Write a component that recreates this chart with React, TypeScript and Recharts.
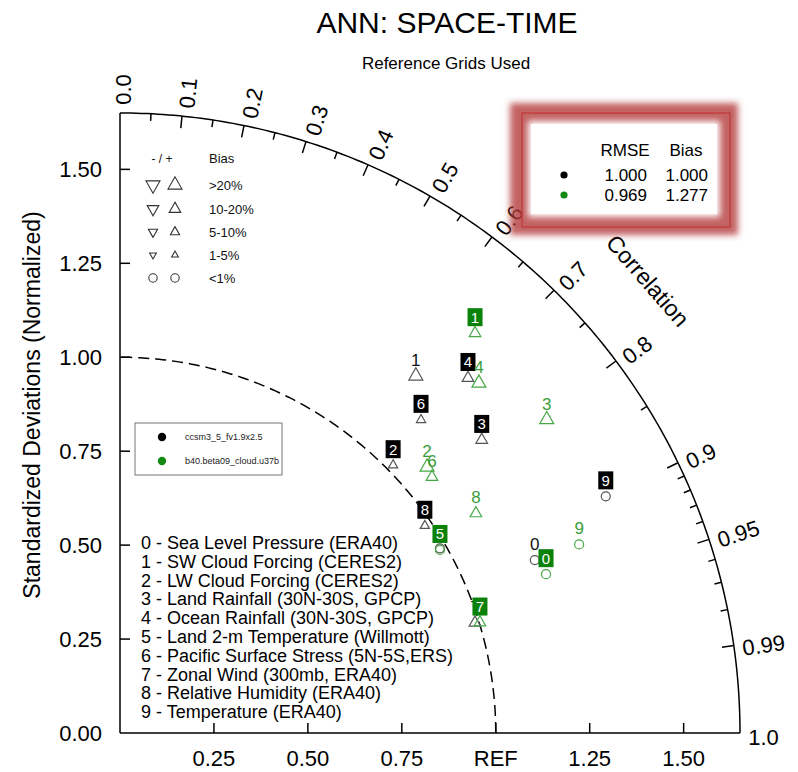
import React from 'react';
import { ScatterChart, Scatter, XAxis, YAxis, ReferenceLine, ReferenceDot } from 'recharts';

const FONT = '"Liberation Sans", Arial, Helvetica, sans-serif';

// ---------- data ----------
const variableNames = [
  'Sea Level Pressure (ERA40)',
  'SW Cloud Forcing (CERES2)',
  'LW Cloud Forcing (CERES2)',
  'Land Rainfall (30N-30S, GPCP)',
  'Ocean Rainfall (30N-30S, GPCP)',
  'Land 2-m Temperature (Willmott)',
  'Pacific Surface Stress (5N-5S,ERS)',
  'Zonal Wind (300mb, ERA40)',
  'Relative Humidity (ERA40)',
  'Temperature (ERA40)',
];

const caseNames = ['ccsm3_5_fv1.9x2.5', 'b40.beta09_cloud.u37b'];
const caseRMSE = ['1.000', '0.969'];
const caseBias = ['1.000', '1.277'];

// normalized standard deviation (ratio) and correlation for each variable
const ratioCase1 = [1.196, 1.234, 1.018, 1.239, 1.323, 0.983, 1.156, 0.989, 0.981, 1.438];
const corrCase1 = [0.923, 0.638, 0.714, 0.777, 0.700, 0.866, 0.693, 0.955, 0.827, 0.899];
// bias class: 0 = <1%, 1 = 1-5%, 2 = 5-10%, 3 = 10-20%, 4 = >20%
const biasClassCase1 = [0, 4, 2, 3, 3, 0, 2, 3, 2, 0];
const boxedCase1 = [false, false, true, true, true, false, true, false, true, true];

const ratioCase2 = [1.210, 1.423, 1.081, 1.409, 1.334, 0.981, 1.074, 1.002, 1.113, 1.321];
const corrCase2 = [0.937, 0.664, 0.756, 0.806, 0.716, 0.868, 0.773, 0.956, 0.851, 0.925];
const biasClassCase2 = [0, 3, 4, 4, 4, 0, 3, 3, 3, 0];
const boxedCase2 = [true, true, false, false, false, true, false, true, false, false];

const stdTickValues = [0, 0.25, 0.5, 0.75, 1.0, 1.25, 1.5];
const yTickLabels = ['0.00', '0.25', '0.50', '0.75', '1.00', '1.25', '1.50'];
const xTickLabels = ['', '0.25', '0.50', '0.75', 'REF', '1.25', '1.50'];

const corrMajor = [0.0, 0.1, 0.2, 0.3, 0.4, 0.5, 0.6, 0.7, 0.8, 0.9, 0.95, 0.99, 1.0];
const corrMajorLabels = ['0.0', '0.1', '0.2', '0.3', '0.4', '0.5', '0.6', '0.7', '0.8', '0.9', '0.95', '0.99', '1.0'];
const corrMinor = [0.05, 0.15, 0.25, 0.35, 0.45, 0.55, 0.65, 0.75, 0.85, 0.91, 0.92, 0.93, 0.94, 0.96, 0.97, 0.98];

const biasLegendLabels = ['>20%', '10-20%', '5-10%', '1-5%', '<1%'];
const biasLegendClasses = [4, 3, 2, 1, 0];

// ---------- geometry helpers ----------
const MAX_STD = 1.65;
const polar = (r: number, c: number) => ({ x: r * c, y: r * Math.sqrt(Math.max(0, 1 - c * c)) });

const arcAngles = Array.from({ length: 181 }, (_, i) => i * 0.5);
const outerArc = arcAngles.map((a) => polar(MAX_STD, Math.cos((a * Math.PI) / 180)));
const refArc = arcAngles.map((a) => polar(1.0, Math.cos((a * Math.PI) / 180)));

const buildPoints = (ratio: number[], corr: number[], bias: number[], boxed: boolean[]) =>
  ratio.map((r, i) => ({ ...polar(r, corr[i]), idx: i, bias: bias[i], boxed: boxed[i] }));

const case1Points = buildPoints(ratioCase1, corrCase1, biasClassCase1, boxedCase1);
const case2Points = buildPoints(ratioCase2, corrCase2, biasClassCase2, boxedCase2);

// ---------- styles ----------
const BLACK_MARKER = '#555555';
const BLACK_TEXT = '#111111';
const BLACK_BOX = '#000000';
const GREEN_MARKER = '#46a846';
const GREEN_TEXT = '#3a9e3a';
const GREEN_BOX = '#0a820a';
const GREEN_DOT = '#138a13';
const HALF_W = [0, 3.4, 4.6, 5.8, 7.0];

const triPoints = (cx: number, cy: number, w: number, up: boolean) => {
  const h = w * 1.75;
  if (up) return `${cx},${cy - (2 * h) / 3} ${cx - w},${cy + h / 3} ${cx + w},${cy + h / 3}`;
  return `${cx},${cy + (2 * h) / 3} ${cx - w},${cy - h / 3} ${cx + w},${cy - h / 3}`;
};

const renderNothing = () => <g />;

const makeMarkerShape = (markerColor: string, textColor: string, boxColor: string) => (props: any) => {
  const { cx, cy, payload } = props;
  if (cx == null || cy == null) return <g />;
  const cls = payload.bias;
  const marker =
    cls === 0 ? (
      <circle cx={cx} cy={cy} r={4.5} fill="none" stroke={markerColor} strokeWidth={1.2} />
    ) : (
      <polygon points={triPoints(cx, cy, HALF_W[cls], true)} fill="none" stroke={markerColor} strokeWidth={1.2} />
    );
  const ly = cy - 16;
  const label = payload.boxed ? (
    <g>
      <rect x={cx - 7.5} y={ly - 9} width={15} height={18} fill={boxColor} />
      <text x={cx} y={ly + 5.5} fill="#ffffff" fontSize={15} textAnchor="middle" fontFamily={FONT}>
        {payload.idx}
      </text>
    </g>
  ) : (
    <text x={cx} y={ly + 6} fill={textColor} fontSize={17} textAnchor="middle" fontFamily={FONT}>
      {payload.idx}
    </text>
  );
  return (
    <g>
      {marker}
      {label}
    </g>
  );
};

const XTick = (props: any) => {
  const { x, y, payload } = props;
  const i = stdTickValues.indexOf(payload.value);
  return (
    <g>
      <line x1={x} y1={y} x2={x} y2={y - 10} stroke="#000" strokeWidth={1.5} />
      <text x={x} y={y + 33} textAnchor="middle" fontSize={22} fontFamily={FONT} fill="#000">
        {xTickLabels[i]}
      </text>
    </g>
  );
};

const YTick = (props: any) => {
  const { x, y, payload } = props;
  const i = stdTickValues.indexOf(payload.value);
  return (
    <g>
      {payload.value > 0 && <line x1={x} y1={y} x2={x + 10} y2={y} stroke="#000" strokeWidth={1.5} />}
      <text x={x - 18} y={y + 8} textAnchor="end" fontSize={22} fontFamily={FONT} fill="#000">
        {yTickLabels[i]}
      </text>
    </g>
  );
};

const corrLabelShape = (label: string, c: number) => (props: any) => {
  const { cx, cy } = props;
  const deg = (Math.acos(c) * 180) / Math.PI;
  return (
    <text
      x={cx}
      y={cy + 4}
      transform={`rotate(${-deg} ${cx} ${cy})`}
      textAnchor="start"
      dominantBaseline="central"
      fontSize={22}
      fontFamily={FONT}
      fill="#000"
    >
      {label}
    </text>
  );
};

const correlationTitleShape = (props: any) => {
  const { cx, cy } = props;
  return (
    <text
      x={cx}
      y={cy}
      transform={`rotate(49 ${cx} ${cy})`}
      textAnchor="middle"
      dominantBaseline="central"
      fontSize={23}
      fontFamily={FONT}
      fill="#000"
    >
      Correlation
    </text>
  );
};

const corrTitlePos = polar(1.85, Math.cos((40.6 * Math.PI) / 180));

export default function App() {
  return (
    <div style={{ position: 'absolute', left: 0, top: 0, width: 798, height: 772, background: '#fff' }}>
      <ScatterChart width={798} height={772} margin={{ top: 113, right: 58, bottom: 0, left: 0 }}>
        <XAxis
          type="number"
          dataKey="x"
          domain={[0, MAX_STD]}
          ticks={stdTickValues.slice(1)}
          interval={0}
          height={39}
          tickSize={0}
          tickMargin={0}
          tick={(p: any) => <XTick {...p} />}
          axisLine={{ stroke: '#000', strokeWidth: 1.5 }}
          tickLine={false}
        />
        <YAxis
          type="number"
          dataKey="y"
          domain={[0, MAX_STD]}
          ticks={stdTickValues}
          interval={0}
          width={120}
          tickSize={0}
          tickMargin={0}
          tick={(p: any) => <YTick {...p} />}
          axisLine={{ stroke: '#000', strokeWidth: 1.5 }}
          tickLine={false}
        />
        <Scatter
          data={outerArc}
          line={{ stroke: '#000', strokeWidth: 1.5 }}
          shape={renderNothing}
          isAnimationActive={false}
        />
        <Scatter
          data={refArc}
          line={{ stroke: '#000', strokeWidth: 1.5, strokeDasharray: '11 6' }}
          shape={renderNothing}
          isAnimationActive={false}
        />
        {corrMajor
          .filter((c) => c > 0 && c < 1)
          .map((c) => {
            const a = polar(MAX_STD, c);
            const b = polar(MAX_STD - 0.032, c);
            return (
              <ReferenceLine
                key={`maj${c}`}
                segment={[a, b]}
                stroke="#000"
                strokeWidth={1.5}
                ifOverflow="visible"
              />
            );
          })}
        {corrMinor.map((c) => {
          const a = polar(MAX_STD, c);
          const b = polar(MAX_STD - 0.019, c);
          return (
            <ReferenceLine key={`min${c}`} segment={[a, b]} stroke="#000" strokeWidth={1.5} ifOverflow="visible" />
          );
        })}
        {corrMajor.map((c, i) => {
          const p = polar(1.672, c);
          return (
            <ReferenceDot
              key={`lab${c}`}
              x={p.x}
              y={p.y}
              ifOverflow="visible"
              shape={corrLabelShape(corrMajorLabels[i], c)}
            />
          );
        })}
        <ReferenceDot x={corrTitlePos.x} y={corrTitlePos.y} ifOverflow="visible" shape={correlationTitleShape} />
        <Scatter
          data={case1Points}
          shape={makeMarkerShape(BLACK_MARKER, BLACK_TEXT, BLACK_BOX)}
          isAnimationActive={false}
        />
        <Scatter
          data={case2Points}
          shape={makeMarkerShape(GREEN_MARKER, GREEN_TEXT, GREEN_BOX)}
          isAnimationActive={false}
        />
      </ScatterChart>

      <svg
        width={798}
        height={772}
        style={{ position: 'absolute', left: 0, top: 0, pointerEvents: 'none' }}
        fontFamily={FONT}
      >
        <defs>
          <filter id="glow" x="-20%" y="-20%" width="140%" height="140%">
            <feGaussianBlur stdDeviation="3" />
          </filter>
        </defs>
        {/* titles */}
        <text x={447} y={33} textAnchor="middle" fontSize={30} fill="#000">
          ANN: SPACE-TIME
        </text>
        <text x={446} y={69} textAnchor="middle" fontSize={17} fill="#000">
          Reference Grids Used
        </text>
        <text
          x={32}
          y={405}
          transform="rotate(-90 32 405)"
          textAnchor="middle"
          dominantBaseline="central"
          fontSize={23}
          fill="#000"
        >
          Standardized Deviations (Normalized)
        </text>

        {/* bias legend */}
        <text x={162} y={163} textAnchor="middle" fontSize={12} fill="#111">
          - / +
        </text>
        <text x={209} y={163} fontSize={13} fill="#111">
          Bias
        </text>
        {biasLegendLabels.map((lab, i) => {
          const y = [185, 209, 232, 255, 278][i];
          const cls = biasLegendClasses[i];
          return (
            <g key={lab}>
              {cls === 0 ? (
                <>
                  <circle cx={153} cy={y} r={4.2} fill="none" stroke="#333" strokeWidth={1.1} />
                  <circle cx={175} cy={y} r={4.2} fill="none" stroke="#333" strokeWidth={1.1} />
                </>
              ) : (
                <>
                  <polygon points={triPoints(153, y, HALF_W[cls], false)} fill="none" stroke="#333" strokeWidth={1.1} />
                  <polygon points={triPoints(175, y, HALF_W[cls], true)} fill="none" stroke="#333" strokeWidth={1.1} />
                </>
              )}
              <text x={209} y={y + 5} fontSize={13} fill="#111">
                {lab}
              </text>
            </g>
          );
        })}

        {/* series legend */}
        <rect x={135} y={423} width={147} height={52} fill="#fff" stroke="#777" strokeWidth={1} />
        {caseNames.map((n, i) => (
          <g key={n}>
            <circle cx={162} cy={437 + i * 24} r={4.2} fill={i === 0 ? '#000' : GREEN_DOT} />
            <text x={185} y={440 + i * 24} fontSize={9} fill="#222">
              {n}
            </text>
          </g>
        ))}

        {/* variable list */}
        {variableNames.map((n, i) => (
          <text key={n} x={141} y={549 + i * 18.8} fontSize={18} fill="#000">
            {`${i} - ${n}`}
          </text>
        ))}

        {/* RMSE / Bias box */}
        <rect
          x={519}
          y={112}
          width={210}
          height={114}
          fill="none"
          stroke="rgba(180,60,60,0.8)"
          strokeWidth={18}
          filter="url(#glow)"
        />
        <rect x={531} y={124} width={186} height={90} fill="#fff" />
        <rect x={522} y={113} width={208} height={114} fill="none" stroke="#c23a3a" strokeWidth={1.3} />
        <text x={625} y={156} textAnchor="middle" fontSize={17} fill="#000">
          RMSE
        </text>
        <text x={686} y={156} textAnchor="middle" fontSize={17} fill="#000">
          Bias
        </text>
        {caseRMSE.map((v, i) => (
          <g key={`r${i}`}>
            <circle cx={564} cy={175 + i * 20} r={3.6} fill={i === 0 ? '#000' : GREEN_DOT} />
            <text x={647} y={181 + i * 20} textAnchor="end" fontSize={17} fill="#000">
              {v}
            </text>
            <text x={708} y={181 + i * 20} textAnchor="end" fontSize={17} fill="#000">
              {caseBias[i]}
            </text>
          </g>
        ))}
      </svg>
    </div>
  );
}
